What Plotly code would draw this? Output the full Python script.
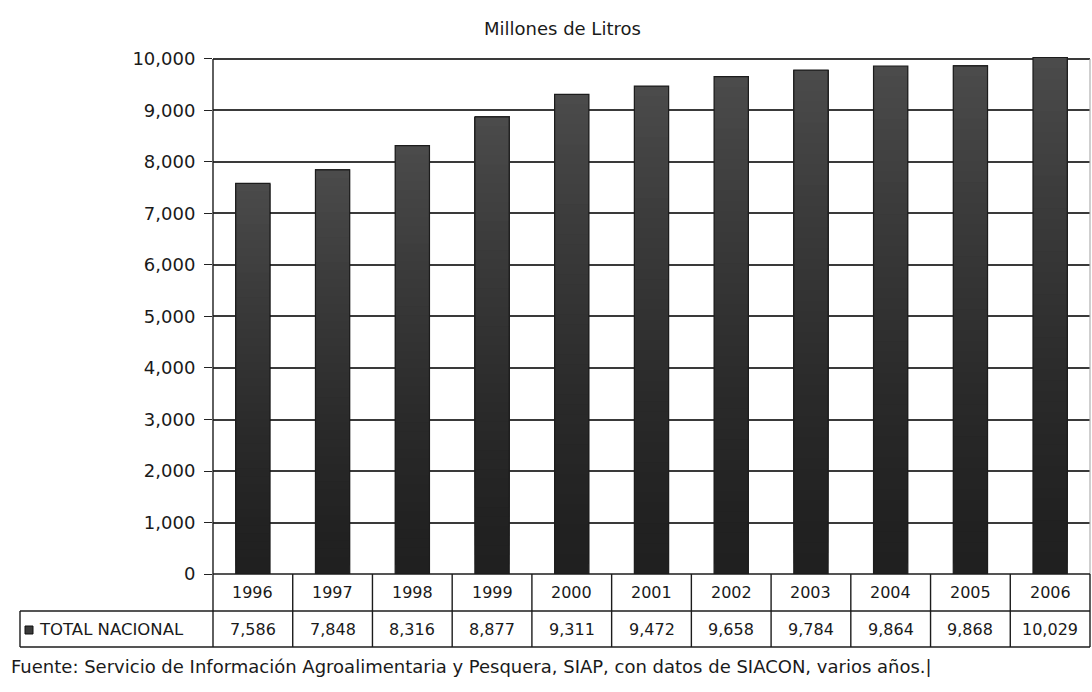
import plotly.graph_objects as go

# Producción nacional de leche (millones de litros)
years = ["1996", "1997", "1998", "1999", "2000", "2001",
         "2002", "2003", "2004", "2005", "2006"]
total_nacional = [7586, 7848, 8316, 8877, 9311, 9472,
                  9658, 9784, 9864, 9868, 10029]
y_ticks = [0, 1000, 2000, 3000, 4000, 5000, 6000, 7000, 8000, 9000, 10000]
series_name = "TOTAL NACIONAL"
title_text = "Millones de Litros"
source_text = ("Fuente: Servicio de Información Agroalimentaria y Pesquera, "
               "SIAP, con datos de SIACON, varios años.|")

W, H = 1092, 692
L, R, T, B = 213, 2, 56, 118
plot_w = W - L - R
plot_h = H - T - B
Y_MAX = 10058

FONT = "DejaVu Sans, Liberation Sans, Arial, sans-serif"
TXT = "#1a1a1a"


def px_to_py(p):
    """Page pixel row -> paper y."""
    return (H - B - p) / plot_h


def px_to_px(p):
    """Page pixel column -> paper x."""
    return (p - L) / plot_w


fig = go.Figure()

# Vertical gradient inside every bar: stacked overlays, each running from
# its start fraction up to the bar top, darker at the bottom.
N = 48
idx = list(range(len(years)))
for k in range(N):
    t = k / N
    g = int(round(32 + 44 * t ** 1.4))
    fig.add_trace(go.Bar(
        x=idx,
        y=[v * (1 - t) for v in total_nacional],
        base=[v * t for v in total_nacional],
        width=0.43,
        marker=dict(color=f"rgb({g},{g},{g})", line=dict(width=0)),
        hoverinfo="skip",
        showlegend=False,
    ))

# Bar outlines
fig.add_trace(go.Bar(
    x=idx, y=total_nacional, width=0.43,
    marker=dict(color="rgba(0,0,0,0)", line=dict(color="#1c1c1c", width=1.2)),
    name=series_name, showlegend=False,
))

fig.update_layout(
    width=W, height=H,
    margin=dict(l=L, r=R, t=T, b=B),
    paper_bgcolor="white", plot_bgcolor="white",
    barmode="overlay",
    font=dict(family=FONT, color=TXT),
    showlegend=False,
)

fig.update_xaxes(
    range=[-0.5, len(years) - 0.5],
    showticklabels=False, showgrid=False, zeroline=False,
    showline=False, ticks="",
)
fig.update_yaxes(
    range=[0, Y_MAX],
    tickvals=y_ticks, tickformat=",d",
    ticks="outside", ticklen=8, tickcolor="#222", tickwidth=1.3,
    ticklabelstandoff=5,
    tickfont=dict(size=18, color=TXT, family=FONT),
    showgrid=True, gridcolor="#3a3a3a", gridwidth=1.5,
    zeroline=False, showline=False,
)

shapes = []
line_dark = dict(color="#1c1c1c", width=1.4)

# Y axis line and right light border
shapes.append(dict(type="line", xref="paper", yref="y", x0=0, x1=0,
                   y0=0, y1=y_ticks[-1], line=line_dark, layer="above"))
shapes.append(dict(type="line", xref="paper", yref="y", x0=1, x1=1,
                   y0=0, y1=y_ticks[-1], line=dict(color="#b0b0b0", width=1.2)))

# Data table below the plot
y_axis0 = 0.0
y_row1 = px_to_py(611)
y_row2 = px_to_py(647)
x_left = px_to_px(20)
n = len(years)
# horizontal rules
shapes.append(dict(type="line", xref="paper", yref="paper", x0=0, x1=1,
                   y0=y_axis0, y1=y_axis0, line=line_dark))
shapes.append(dict(type="line", xref="paper", yref="paper", x0=x_left, x1=1,
                   y0=y_row1, y1=y_row1, line=line_dark))
shapes.append(dict(type="line", xref="paper", yref="paper", x0=x_left, x1=1,
                   y0=y_row2, y1=y_row2, line=line_dark))
# vertical rules at category boundaries
for i in range(n + 1):
    xp = i / n
    shapes.append(dict(type="line", xref="paper", yref="paper", x0=xp, x1=xp,
                       y0=y_axis0, y1=y_row2, line=line_dark))
shapes.append(dict(type="line", xref="paper", yref="paper", x0=x_left, x1=x_left,
                   y0=y_row1, y1=y_row2, line=line_dark))
# legend key square
shapes.append(dict(type="rect", xref="paper", yref="paper",
                   x0=px_to_px(25), x1=px_to_px(33),
                   y0=px_to_py(634), y1=px_to_py(626),
                   fillcolor="#3a3a3a", line=dict(color="#111", width=1)))

annotations = []
y_head = px_to_py(592)
y_vals = px_to_py(629)
for i, (yr, v) in enumerate(zip(years, total_nacional)):
    xc = (i + 0.5) / n
    annotations.append(dict(x=xc, y=y_head, xref="paper", yref="paper",
                            text=yr, showarrow=False,
                            font=dict(size=16, color=TXT, family=FONT),
                            xanchor="center", yanchor="middle"))
    annotations.append(dict(x=xc, y=y_vals, xref="paper", yref="paper",
                            text=f"{v:,}", showarrow=False,
                            font=dict(size=16, color=TXT, family=FONT),
                            xanchor="center", yanchor="middle"))

annotations.append(dict(x=px_to_px(37), y=y_vals, xref="paper", yref="paper",
                        text=series_name, showarrow=False,
                        font=dict(size=16.5, color=TXT, family=FONT),
                        xanchor="left", yanchor="middle"))
annotations.append(dict(x=px_to_px(562), y=px_to_py(28), xref="paper", yref="paper",
                        text=title_text, showarrow=False,
                        font=dict(size=18, color=TXT, family=FONT),
                        xanchor="center", yanchor="middle"))
annotations.append(dict(x=px_to_px(9), y=px_to_py(666), xref="paper", yref="paper",
                        text=source_text, showarrow=False,
                        font=dict(size=18, color=TXT, family=FONT),
                        xanchor="left", yanchor="middle"))

fig.update_layout(shapes=shapes, annotations=annotations)

fig.write_html("out.html")
